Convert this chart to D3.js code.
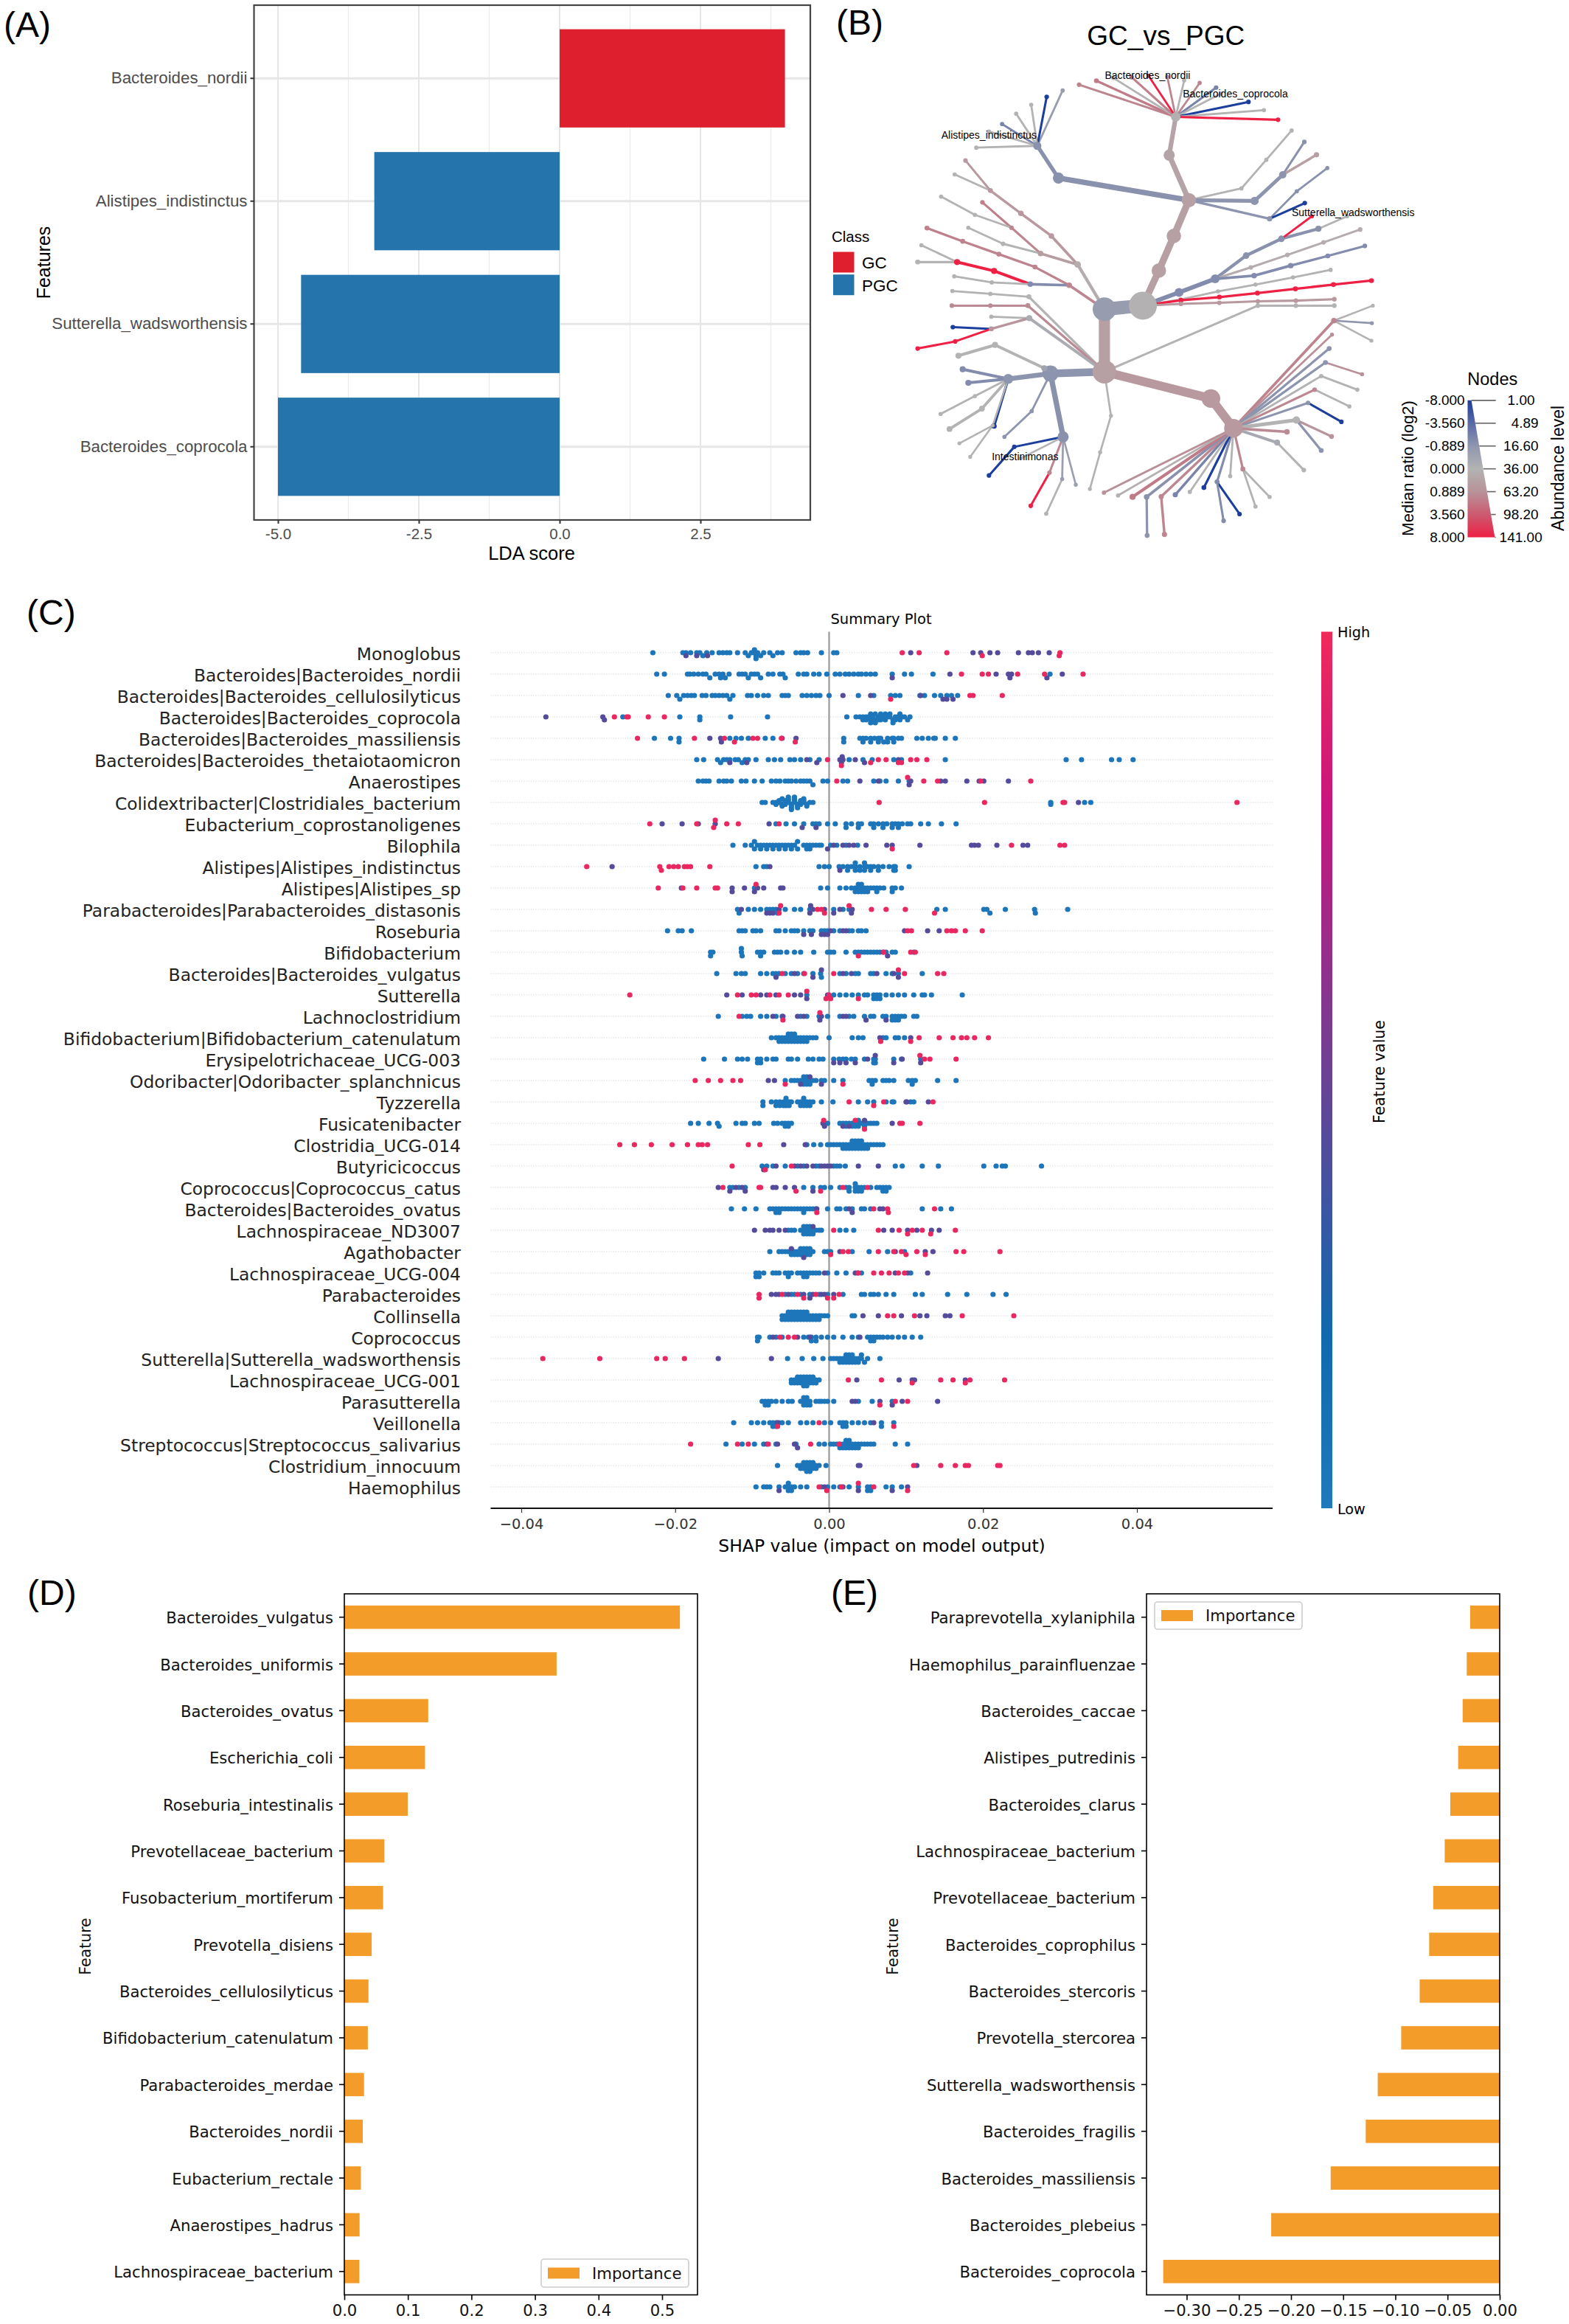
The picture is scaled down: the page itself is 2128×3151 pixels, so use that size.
<!DOCTYPE html>
<html><head><meta charset="utf-8">
<script src="https://cdn.jsdelivr.net/npm/d3@7/dist/d3.min.js"></script>
<style>html,body{margin:0;padding:0;background:#fff}svg{display:block}</style>
</head><body><svg id="fig" width="2128" height="3151"></svg>
<script>
// ---------- Panel A ----------
const ldaFeatures = ["Bacteroides_nordii","Alistipes_indistinctus","Sutterella_wadsworthensis","Bacteroides_coprocola"];
const ldaScores = [4.0,-3.29,-4.59,-5.0];
const ldaClasses = ["GC","PGC","PGC","PGC"];
const ldaTicks = [-5,-2.5,0,2.5];
const ldaMinor = [-3.75,-1.25,1.25,3.75];
const classNames = ["GC","PGC"];
// ---------- Panel B ----------
const ratioTicks = [-8,-3.56,-0.889,0,0.889,3.56,8];
const ratioLabels = ["-8.000","-3.560","-0.889","0.000","0.889","3.560","8.000"];
const ratioColors = ["#1c3f9e","#5a6aa6","#8f96ae","#b3b3b3","#b89299","#cc5a70","#ee2044"];
const abundLabels = ["1.00","4.89","16.60","36.00","63.20","98.20","141.00"];
const treeLabels = [["Bacteroides_nordii",670,211],["Bacteroides_coprocola",857,261],["Alistipes_indistinctus",332,377],["Sutterella_wadsworthensis",1108,595],["Intestinimonas",409,1278]];
// layout: [x, y, log2 ratio, abundance, children, ratio of incoming edge if different]
const treeRoot = [578,1040,.5,98,[
  [578,865,-.7,98,[
    [660,855,.05,141,[
      [694,757,.5,35,[[726,660,.5,35,[[758,560,.5,35,[
        [716,434,.4,20,[[730,327,.1,14,[
          [524,237,1.5,2.5],[561,226,2,3],[597,218,0,2],[636,216,1.8,2.5],[672,212,8,2],[712,215,1.5,2],
          [748,225,0,2],[781,232,1.5,2],[816,245,-2,2.5],[826,262,0,2],[885,285,-8,2.5],[918,308,0,2],[948,335,8,2.5]],.4]]],
        [480,498,-1.2,20,[[435,408,-1.2,10,[
          [489,253,-.7,2],[455,271,-8,2.5],[422,293,0,2],[390,318,0,2],[360,347,-2,2],[332,368,0,2],[305,413,0,2]]]]],
        [870,527,0,2,[[923,447,0,2,[[977,365,0,2]]]]],
        [898,562,-1,10,[[958,489,-1,8,[[1004,397,-1.2,2.5],[1030,433,.5,3.5]]]]],
        [930,612,-1,3.5,[[988,535,-1.2,2,[[1053,470,-1.2,2]]],[1005,568,-8,2.5]]]
      ]]]]]],
      [737,818,-1.5,12,[[814,780,-1.5,12,[
        [880,715,-1.2,6,[[955,668,-1.2,6,[[1034,640,-1.2,5,[[1095,605,0,2]]],[1020,605,8,2]]]]],
        [890,748,.2,2.5,[[968,713,.2,2.5,[[1045,678,.2,2.5,[[1123,642,.2,2.5]]]]]]],
        [897,771,-1.5,4,[[975,743,-1.5,4,[[1054,716,-1.5,3,[[1133,688,-1.5,2.5]]]]]]]
      ]]]],
      [740,838,0,2,[[820,815,0,2,[[900,796,0,2,[[980,776,0,2,[[1060,755,0,2]]]]]]]]],
      [741,840,8,3,[[823,831,8,3,[[904,820,8,3,[[985,808,8,3,[[1066,796,8,3,[[1147,785,8,3]]]]]]]]]]],
      [741,850,.7,2.5,[[823,847,.7,2.5,[[905,843,.7,2.5,[[986,841,.7,2.5,[[1068,837,.7,2.5]]]]]]]]]
    ],-.7],
    [521,740,.2,6,[
      [465,660,.7,4,[[400,597,.7,4,[[335,533,.7,3,[[282,449,.7,2.5],[259,488,0,2]]]]]]],
      [442,709,.6,4,[[380,637,1.5,2.5,[[318,566,1.8,2.5],[302,601,0,2,[[230,550,0,2]]]]],[362,682,0,2.5,[[288,637,0,2]]]]]
    ]],
    [503,798,1.5,4,[
      [430,747,1.6,3,[[353,711,1.6,3,[[276,675,1.6,3,[[200,638,1.8,3]]]]]]],
      [420,795,-1.5,4,[
        [343,758,8,5,[[264,733,8,5,[[180,733,0,3],[188,686,0,2]]]]],
        [338,790,0,2,[[258,773,0,2]]]
      ]]
    ]]
  ],.5],
  [417,830,0,3,[[335,822,0,2,[[254,814,0,2]]]]],
  [415,855,1.2,3,[[335,855,1.2,2.5,[[253,855,1.2,2.5]]]]],
  [418,890,-.2,5,[[337,886,0,2],[337,920,.8,3,[[255,915,-8,2.5],[260,955,8,2.5,[[180,975,8,2.5]]]]]]],
  [463,1045,-1,45,[
    [450,1030,-.5,5,[[345,965,0,5,[[267,995,0,5]]]]],
    [373,1060,-1,16,[
      [276,1033,-1.5,5],[288,1071,-1.5,5],
      [302,1108,0,2,[[229,1158,0,2]]],[317,1143,0,4.5,[[248,1200,0,4.5]]],
      [343,1192,-8,3.5],[340,1190,0,1.6,[[269,1240,0,1.6],[292,1278,0,1.6]]]
    ]],
    [423,1150,-1,2,[[365,1222,-1,2]]],
    [490,1222,-1.2,20,[
      [386,1250,-8,2.5,[[332,1330,-8,2.5]]],
      [461,1322,1.5,2.5,[[421,1415,8,2.5]]],
      [488,1340,-.6,2,[[454,1437,0,2]]],
      [517,1356,-.6,1.8],
      [400,1282,0,1.6]
    ]]
  ]],
  [592,1163,0,1.8,[[569,1265,0,1.8,[[547,1368,0,1.8]]]]],
  [905,855,0,2.5,[[986,855,0,2.5,[[1068,855,0,2.5]]]]],
  [805,1115,.7,60,[[853,1198,.7,60,[
    [1067,897,1.6,4,[[1150,855,0,1.6],[1148,904,-.9,1.6],[1147,953,0,1.6]]],
    [1063,936,1,1.8],[1057,975,-1,3],
    [1049,1014,-1,3,[[1127,1047,1,1.8]]],[1040,1052,0,2,[[1117,1090,0,2]]],
    [1026,1090,1.4,2.5,[[1100,1137,0,2]]],[1012,1127,-1,2.5,[[1083,1180,-8,2.5]]],
    [987,1175,0,8,[[1062,1221,.8,3],[1040,1260,-1,3]]],
    [967,1208,1.2,4],[946,1238,-.3,5,[[1003,1315,0,2.5]]],
    [873,1312,1.4,3,[[930,1390,0,2],[900,1417,0,2]]],
    [846,1332,0,2],[818,1348,-1.5,3,[[866,1438,-8,2.5],[832,1457,-1.5,2.5]]],
    [790,1364,-8,3],[760,1376,0,2],[729,1384,-2,3.5],
    [699,1389,1.4,3.5,[[706,1495,1.4,3.5]]],[668,1390,-1.2,4,[[669,1498,-1,3]]],
    [638,1390,2,5],[607,1386,.1,2],[577,1378,1,2]
  ]]]]
]];
// ---------- Panel C (SHAP in units of 1e-4) ----------
const SHAP_UNIT = 1e-4;
const shapFeatures = ["Monoglobus","Bacteroides|Bacteroides_nordii","Bacteroides|Bacteroides_cellulosilyticus","Bacteroides|Bacteroides_coprocola","Bacteroides|Bacteroides_massiliensis","Bacteroides|Bacteroides_thetaiotaomicron","Anaerostipes","Colidextribacter|Clostridiales_bacterium","Eubacterium_coprostanoligenes","Bilophila","Alistipes|Alistipes_indistinctus","Alistipes|Alistipes_sp","Parabacteroides|Parabacteroides_distasonis","Roseburia","Bifidobacterium","Bacteroides|Bacteroides_vulgatus","Sutterella","Lachnoclostridium","Bifidobacterium|Bifidobacterium_catenulatum","Erysipelotrichaceae_UCG-003","Odoribacter|Odoribacter_splanchnicus","Tyzzerella","Fusicatenibacter","Clostridia_UCG-014","Butyricicoccus","Coprococcus|Coprococcus_catus","Bacteroides|Bacteroides_ovatus","Lachnospiraceae_ND3007","Agathobacter","Lachnospiraceae_UCG-004","Parabacteroides","Collinsella","Coprococcus","Sutterella|Sutterella_wadsworthensis","Lachnospiraceae_UCG-001","Parasutterella","Veillonella","Streptococcus|Streptococcus_salivarius","Clostridium_innocuum","Haemophilus"];
const shapLow = [
[-229,-190,-186,-180,-172,-168,-164,-159,-152,-143,-138,-133,-129,-119,-109,-105,-101,-97,-95,-93,-97,-95,-89,-85,-77,-73,-67,-61,-43,-37,-33,-28,-10,6,10],
[-224,-214,-184,-181,-176,-170,-164,-160,-155,-148,-143,-141,-138,-135,-130,-117,-113,-109,-105,-101,-97,-93,-89,-79,-73,-64,-60,-57,-40,-33,-29,-20,-13,-3,8,14,21,26,32,38,42,48,54,60,82,98,107,135,287],
[-209,-198,-194,-189,-184,-179,-175,-165,-160,-152,-148,-143,-138,-133,-129,-125,-106,-101,-93,-85,-79,-61,-57,-53,-35,-29,-23,-17,-12,0,38,58,80,86,92,118,124,137,145,153,159,167],
[-268,-194,-168,-168,-128,-80,23,35,40,44,48,51,54,57,60,64,67,70,73,76,79,83,86,89,92,95,98,102,105,44,48,54,60,64,67,73,79,83,86,92,54,60,67],
[-227,-206,-195,-195,-129,-121,-114,-105,-83,-73,19,19,40,44,48,54,59,64,67,71,76,82,84,90,94,44,54,64,76,84,114,121,129,136,138,151,164],
[-172,-163,-145,-141,-137,-133,-129,-122,-118,-113,-109,-105,-95,-79,-71,-63,-51,-45,-37,-25,-13,26,44,56,84,94,151,308,328,367,377,395],
[-170,-164,-160,-156,-143,-137,-133,-127,-114,-108,-97,-87,-75,-69,-64,-57,-53,-49,-43,-37,-33,-29,-25,-21,-8,-2,18,24,58,66,74,90,104],
[-87,-83,-73,-69,-65,-61,-57,-53,-49,-45,-41,-37,-33,-29,-25,-21,-69,-65,-61,-57,-53,-49,-45,-41,-37,-33,-29,-61,-57,-53,-49,-45,-41,-37,-33,-53,-49,-45,288,288,332,340],
[-69,-56,-45,-33,-21,-17,-13,-2,8,22,29,38,42,54,58,64,70,75,82,86,90,95,102,106,119,129,146,165,58,70,82,90,22,38],
[-125,-109,-101,-97,-93,-89,-85,-81,-77,-73,-69,-65,-61,-57,-53,-49,-45,-41,-33,-29,-25,-21,-17,-13,-10,2,10,22,37,-97,-89,-81,-73,-65,-57,-49,-41,-29,-25],
[-95,-85,-81,-13,-6,0,13,18,24,29,34,40,46,50,54,58,64,70,78,84,86,104,24,34,46,54,64,84,86,34,40,46],
[-97,-11,-2,14,22,29,34,38,42,46,50,54,58,62,66,71,82,86,94,34,38,42,46,50,38,42,62,82],
[-119,-117,-105,-97,-89,-81,-77,-73,-69,-67,-57,-45,-37,-25,6,18,26,140,151,201,205,209,229,267,268,310],
[-210,-196,-191,-179,-117,-113,-109,-99,-95,-89,-69,-65,-57,-49,-45,-41,-33,-25,-21,-10,-6,-2,6,14,26,30,38,42,48],
[-154,-151,-154,-114,-113,-114,-93,-89,-85,-89,-71,-67,-63,-55,-45,-37,-20,-2,2,6,22,34,38,42,46,50,54,58,62,66,74,82,86,110],
[-146,-121,-114,-109,-89,-81,-73,-69,-65,-57,-49,-41,-33,-21,-11,-10,14,22,34,38,54,58,74,82,90,121],
[-29,6,14,22,30,38,46,50,58,62,66,74,82,90,98,110,121,124,133,173,58,62,66],
[-144,-113,-107,-102,-89,-81,-69,-61,-37,-29,-13,-2,14,26,32,46,54,58,70,74,82,86,90,94,98,110,114,82,86,90],
[-75,-69,-65,-61,-57,-53,-49,-45,-41,-37,-33,-29,-25,-21,-17,0,30,38,44,70,74,86,90,98,-65,-61,-57,-53,-49,-45,-41,-37,-33,-29,-53,-49,-45],
[-163,-136,-119,-113,-106,-93,-89,-81,-73,-69,-53,-49,-41,-27,-21,-13,-8,6,13,18,22,29,34,46,58,60,84,94,119,-93,-89,60,58],
[-57,-49,-45,-41,-33,-29,-25,-21,-17,-10,-6,6,18,52,56,60,70,74,78,84,103,108,112,141,165,-37,-33,-29,-25,-33,-29,56,108],
[-86,-86,-75,-69,-64,-59,-56,-52,-49,-41,-37,-33,-29,-25,-21,-10,5,38,50,58,74,82,84,106,110,-69,-64,-59,-56,-52,-37,-33,-29,-25,-56,-33],
[-180,-170,-156,-145,-143,-121,-113,-109,-97,-91,-72,-67,-61,-57,-53,-49,-2,14,18,22,26,30,34,38,42,46,50,54,58,62,-57,-53,22,30,38,46,34,38],
[-29,-20,-11,-2,2,6,10,14,18,22,26,30,34,38,42,46,50,54,58,62,66,70,18,22,26,30,34,38,42,46,50,30,34,38,42],
[-87,-81,-73,-57,-41,-33,-17,-13,6,10,14,21,86,95,121,142,201,217,225,229,276],
[-129,-125,-117,-109,-33,-21,-11,-6,2,14,22,26,34,38,42,46,54,62,66,70,74,78,26,34,38,42,34,70,74],
[-127,-110,-95,-77,-73,-69,-65,-61,-57,-53,-49,-45,-41,-37,-33,-29,-25,-21,-17,-2,10,14,22,30,42,46,54,121,145,159,-69,-65,-33],
[-53,-49,-45,-37,-33,-29,-25,-21,-17,-13,-10,14,22,32,-33,-29,-25,-21,-33,-29,-25],
[-77,-65,-61,-57,-53,-49,-45,-41,-37,-33,-29,-25,-21,-6,-2,2,30,52,76,98,-49,-45,-41,-37,-33,-29,-25,-37,-33,-29,-25],
[-95,-91,-85,-73,-69,-65,-57,-53,-49,-41,-33,-29,-25,-21,-17,-13,-2,10,22,42,106,-95,-91,-53,-33,-29,-37],
[-57,-49,-45,-37,-25,-13,-2,18,42,46,54,58,64,74,84,112,121,154,179,213,230],
[-61,-57,-53,-49,-45,-41,-37,-33,-29,-25,-21,-17,-13,-10,-6,-2,30,33,-61,-57,-53,-49,-45,-41,-37,-33,-29,-25,-21,-17,-13,-53,-49,-45,-41,-37,-33,-29],
[-93,-91,-93,-77,-69,-61,-33,-27,-23,-17,-10,-2,6,18,30,38,50,54,58,62,66,70,76,82,90,98,108,119,-23,-17,54,58],
[-54,-35,-20,-8,2,6,10,14,18,22,26,30,34,38,42,46,50,66,14,18,22,26,30,34,38,42,22,26,30],
[-49,-45,-41,-37,-33,-29,-25,-21,-17,-13,-49,-45,-41,-37,-33,-29,-25,-21,-17,-41,-37,-33,-29,-25,-21,-33,-29],
[-87,-83,-79,-75,-69,-61,-53,-48,-37,-33,-29,-25,-17,-13,-10,-6,-2,6,38,56,82,-83,-79,-33,-29,-25,-33,-29],
[-124,-101,-93,-85,-77,-73,-69,-65,-61,-53,-37,-29,-21,-6,2,14,18,22,30,38,46,54,68,84,-73,-69,18,22,68],
[-134,-113,-97,-85,-69,-43,-13,-6,2,6,10,14,18,22,26,30,34,38,42,46,50,54,58,86,102,14,18,22,26,30,34,38,22,26],
[-67,-41,-37,-33,-29,-25,-21,-17,-13,-4,-37,-33,-29,-25,-21,-17,-33,-29,-25,-21,-29,-25,-27],
[-95,-85,-81,-77,-65,-57,-53,-49,-45,-37,-29,-10,-2,6,14,26,38,50,54,74,82,94,-53,-49,-53,50,54]
];
const shapMid = [
[-186,-172,-158,106,187,209,219,246,259,264,272,286,197],
[82,157,217,233,237,235,283,303],
[18,54,119,148,153,161],
[-368,-294,-292],
[-155,-141,-140,-61,-43],
[-129,-107,-29,-16,14,16,17,18,34,46,90],
[40,64,104,106,145,151,179,195,201,233],
[324],
[-217,-191,-170,-148,-78,-35,-17],
[-2,6,18,26,32,48,75,82,118,185,189,194,218,252,258],
[-282,-77,14],
[-192,-126,-126,-110,-97,-93,-85,-63,-60],
[-114,-81,-77,-73,-65,-25,-24,-21,-6,6,14,29,30],
[-33,-23,-10,-6,-2,2,18,22,98,128,143],
[70,76],
[-69,-45,-21,-10,18,29,62,84,90],
[-133,-113,-89,-81,-69,-45,-37,-29,-2],
[-73,-60,-41,-33,-12,-10,18,22,48,74],
[66,106],
[6,14,22,34,50,60,84,95,119],
[-79,-71,-37,-25,-10],
[100,101,129],
[-8,-6,18,26,46,82],
[-59,-31],
[-85,-69,-45,-37,-29,-21,-10,-6,-2,2,38,64],
[-144,-129,-121,-113,-109,-73,-69,-57,-45,-21],
[-16,26,30,66,70],
[-97,-83,-77,-73,-65,-57,-21,71,82,102,114,133,143],
[-49,-33,14,86,125,135],
[-6,34,37,86,102,128],
[-75,-69,-65,-53,-33,-25,-21,-10,-6,6],
[44,64,94,118,127,151,157],
[-73,-41,-25,40],
[-144,-75],
[36,91,108,111,177],
[30,34,66,82,95,141],
[-67,58],
[-81,-67,-45,-41],
[38,40,114],
[-65,-6,18,38,82,102]
];
const shapHigh = [
[95,117,153,199,300,299],
[172,199,207,245,280,330],
[80,183,187,225],
[-279,-261,-263,-235,-214],
[-249,-175,-136,-123,-99,-93,-62,-44],
[-2,16,54,64,74,90,94,106,114,127],
[10,102,123,141,197,262],
[65,202,304,306,530],
[-233,-172,-150,-148,-133,-118,-65],
[82,237,300,306],
[-315,-220,-218,-208,-202,-196,-188,-184,-180,-155],
[-222,-190,-172,-148,-145,-95],
[-65,-63,-15,-10,-6,26,55,74,99,137],
[102,107,153,159,164,177,199],
[38,71,106,112],
[-61,-32,6,90,98,141,149],
[-259,-119,-101,-95,-77,-65,-53,-29,-4,0,2,38],
[-117,-60,-12],
[67,106,117,143,161,172,179,189,207],
[118,124,131,165],
[-174,-157,-141,-125,-115,-57,18],
[26,58,71,135],
[-7,34,46,92,95,118],
[-272,-253,-231,-204,-184,-170,-165,-158,-105,-90],
[-126,-83,-49],
[-138,-91,-89,-43,-11,18,50],
[-16,58,76,77,137],
[6,64,91,102,108,121,132,164],
[2,18,25,64,84,94,100,114,125,165,175,222],
[38,58,68,78,90,98],
[-91,-91,-61,-41,-33,-17,-2,6,13],
[76,84,111,173,240],
[-64,-53,-45],
[-372,-298,-224,-213,-188],
[25,68,108,145,161,177,183,228],
[66,86,102],
[-67,-13,84],
[-180,-119,-105,-79,-24,13],
[110,145,164,177,181,219,222],
[-13,-3,16,38,58,102]
];
const shapTicks = [-0.04,-0.02,0,0.02,0.04];
const featureStops = [0,0.2,0.55,0.8,1];
const featureColors = ["#2079bc","#1068ae","#7c3a90","#c8157f","#ef2a5a"];
const levelValue = {low:0.03,mid:0.42,high:0.97};
// ---------- Panels D, E ----------
const impPosNames = ["Bacteroides_vulgatus","Bacteroides_uniformis","Bacteroides_ovatus","Escherichia_coli","Roseburia_intestinalis","Prevotellaceae_bacterium","Fusobacterium_mortiferum","Prevotella_disiens","Bacteroides_cellulosilyticus","Bifidobacterium_catenulatum","Parabacteroides_merdae","Bacteroides_nordii","Eubacterium_rectale","Anaerostipes_hadrus","Lachnospiraceae_bacterium"];
const impPosValues = [.528,.334,.132,.127,.0998,.063,.061,.043,.038,.037,.031,.029,.026,.024,.0236];
const impPosTicks = [0,.1,.2,.3,.4,.5];
const impNegNames = ["Paraprevotella_xylaniphila","Haemophilus_parainfluenzae","Bacteroides_caccae","Alistipes_putredinis","Bacteroides_clarus","Lachnospiraceae_bacterium","Prevotellaceae_bacterium","Bacteroides_coprophilus","Bacteroides_stercoris","Prevotella_stercorea","Sutterella_wadsworthensis","Bacteroides_fragilis","Bacteroides_massiliensis","Bacteroides_plebeius","Bacteroides_coprocola"];
const impNegValues = [-.0283,-.0316,-.0355,-.0398,-.0474,-.0527,-.0637,-.0676,-.0767,-.0944,-.1169,-.1284,-.162,-.219,-.3225];
const impNegTicks = [-.30,-.25,-.20,-.15,-.10,-.05,0];

// ---------- drawing ----------
const svg = d3.select("#fig");
const SANS = "'Liberation Sans',Arial,sans-serif", DJV = "'DejaVu Sans',sans-serif";
const txt = (g,s,x,y,size,opts={}) => {
  const t = g.append("text").attr("x",x).attr("y",y).attr("font-size",size)
    .attr("font-family",opts.font||SANS).attr("fill",opts.fill||"#000")
    .attr("text-anchor",opts.anchor||"start").attr("dominant-baseline","central").text(s);
  if(opts.rot) t.attr("transform",`rotate(${opts.rot} ${x} ${y})`);
  return t;
};
[["(A)",5,33],["(B)",1134,30],["(C)",36,830],["(D)",37,2159],["(E)",1127,2159]].forEach(d=>txt(svg,d[0],d[1],d[2],48,{}));

// Panel A
(()=>{
  const g = svg.append("g");
  const x = d3.scaleLinear().domain([-5,2.5]).range([377,950]);
  const y = d3.scaleBand().domain(ldaFeatures).range([23,689]).paddingInner(.2).paddingOuter(.1);
  const L=344.5,R=1099,T=7,B=705;
  ldaMinor.forEach(v=>g.append("line").attr("x1",x(v)).attr("x2",x(v)).attr("y1",T).attr("y2",B).attr("stroke","#ebebeb").attr("stroke-width",1.2));
  ldaTicks.forEach(v=>g.append("line").attr("x1",x(v)).attr("x2",x(v)).attr("y1",T).attr("y2",B).attr("stroke","#e6e6e6").attr("stroke-width",2));
  ldaFeatures.forEach(f=>{const c=y(f)+y.bandwidth()/2;g.append("line").attr("x1",L).attr("x2",R).attr("y1",c).attr("y2",c).attr("stroke","#e6e6e6").attr("stroke-width",3);});
  const cls = d3.scaleOrdinal().domain(classNames).range(["#de1f2e","#2575ac"]);
  g.selectAll("rect.b").data(ldaFeatures).join("rect").attr("x",(d,i)=>Math.min(x(0),x(ldaScores[i])))
    .attr("width",(d,i)=>Math.abs(x(ldaScores[i])-x(0))).attr("y",d=>y(d)).attr("height",y.bandwidth()).attr("fill",(d,i)=>cls(ldaClasses[i]));
  g.append("rect").attr("x",L).attr("y",T).attr("width",R-L).attr("height",B-T).attr("fill","none").attr("stroke","#444").attr("stroke-width",2.2);
  const ax = g.append("g").attr("transform",`translate(0,${B})`).call(d3.axisBottom(x).tickValues(ldaTicks).tickFormat(d=>d.toFixed(1)).tickSize(5).tickPadding(6));
  ax.select(".domain").remove();
  ax.selectAll("text").attr("font-size",20.5).attr("font-family",SANS).attr("fill","#4d4d4d");
  ax.selectAll("line").attr("stroke","#333").attr("stroke-width",2);
  const ay = g.append("g").attr("transform",`translate(${L},0)`).call(d3.axisLeft(y).tickSize(5).tickPadding(4));
  ay.select(".domain").remove();
  ay.selectAll("text").attr("font-size",22.3).attr("font-family",SANS).attr("fill","#4d4d4d");
  ay.selectAll("line").attr("stroke","#333").attr("stroke-width",2);
  txt(g,"LDA score",721,750,25.5,{anchor:"middle"});
  txt(g,"Features",59,356,25,{anchor:"middle",rot:-90});
  txt(g,"Class",1128,320,20.5);
  classNames.forEach((c,i)=>{
    g.append("rect").attr("x",1130).attr("y",341.5+i*30.7).attr("width",28.5).attr("height",28).attr("fill",cls(c));
    txt(g,c,1169,356+i*31,22.5);
  });
})();

// Panel B
(()=>{
  const g = svg.append("g");
  const X = d3.scaleLinear().domain([0,1568]).range([1130,2128]);
  const Y = d3.scaleLinear().domain([0,1568]).range([0,760]);
  const col = d3.scaleLinear().domain(ratioTicks).range(ratioColors);
  const rad = d3.scaleSqrt().domain([1,141]).range([2.2,19]);
  const wid = d3.scaleSqrt().domain([1,141]).range([2.2,18]);
  const root = d3.hierarchy(treeRoot,d=>d[4]);
  txt(g,"GC_vs_PGC",X(709),Y(100),37,{anchor:"middle"});
  g.selectAll("line.e").data(root.links()).join("line").attr("x1",d=>X(d.source.data[0])).attr("y1",d=>Y(d.source.data[1]))
    .attr("x2",d=>X(d.target.data[0])).attr("y2",d=>Y(d.target.data[1]))
    .attr("stroke",d=>col(d.target.data[5]??d.target.data[2])).attr("stroke-width",d=>wid(d.target.data[3])).attr("stroke-linecap","round");
  g.selectAll("circle.n").data(root.descendants()).join("circle").attr("cx",d=>X(d.data[0])).attr("cy",d=>Y(d.data[1]))
    .attr("r",d=>rad(d.data[3])).attr("fill",d=>col(d.data[2]));
  treeLabels.forEach(d=>txt(g,d[0],X(d[1]),Y(d[2]),14,{anchor:"middle"}));
  // legend
  txt(g,"Nodes",X(1405),Y(1060),23.5,{anchor:"middle"});
  const ly = d3.scalePoint().domain(d3.range(7)).range([1120,1503]);
  const grad = svg.append("defs").append("linearGradient").attr("id","rg").attr("x1",0).attr("x2",0).attr("y1",0).attr("y2",1);
  ratioTicks.forEach((v,i)=>grad.append("stop").attr("offset",i/6).attr("stop-color",col(v)));
  const lw = d3.scaleLinear().domain([0,6]).range([1360,1410]);
  ratioTicks.forEach((v,i)=>{
    g.append("line").attr("x1",X(lw(i))).attr("x2",X(1412)).attr("y1",Y(ly(i))).attr("y2",Y(ly(i))).attr("stroke","#666").attr("stroke-width",1.6);
    txt(g,ratioLabels[i],X(1346),Y(ly(i)),19,{anchor:"end"});
    txt(g,abundLabels[i],X(i==0?1495:i==6?1511:1503),Y(ly(i)),19,{anchor:"end"});
  });
  g.append("polygon").attr("points",[[1352,1120],[lw(0),1120],[lw(6),1503],[1352,1503]].map(p=>X(p[0])+","+Y(p[1])).join(" ")).attr("fill","url(#rg)");
  txt(g,"Median ratio (log2)",X(1225),Y(1310),22,{anchor:"middle",rot:-90});
  txt(g,"Abundance level",X(1545),Y(1310),23,{anchor:"middle",rot:-90});
})();

// Panel C
(()=>{
  const g = svg.append("g");
  const x = d3.scaleLinear().domain([-0.04,0.04]).range([707,1542]);
  const y = d3.scalePoint().domain(shapFeatures).range([885,2016]);
  const fv = d3.scaleLinear().domain(featureStops).range(featureColors);
  const AB = 2045;
  shapFeatures.forEach(f=>g.append("line").attr("x1",665.5).attr("x2",1726).attr("y1",y(f)).attr("y2",y(f)).attr("stroke","#ccc").attr("stroke-dasharray","1 2.2"));
  g.append("line").attr("x1",x(0)).attr("x2",x(0)).attr("y1",856.5).attr("y2",AB).attr("stroke","#999").attr("stroke-width",2.2);
  shapFeatures.forEach((f,i)=>{
    const pts = [...shapLow[i].map(v=>({v,l:"low"})),...shapMid[i].map(v=>({v,l:"mid"})),...shapHigh[i].map(v=>({v,l:"high"}))];
    const [mn,mx] = d3.extent(pts,d=>d.v);
    const order = d3.sort(pts,d=>Math.round(100*(d.v-mn)/(mx-mn)));
    let layer=0,last=null;
    order.forEach(p=>{const q=Math.round(100*(p.v-mn)/(mx-mn)); if(q!==last)layer=0; last=q;
      p.o=Math.ceil(layer/2)*((layer%2)*2-1); layer++;});
    const maxO = d3.max(order,d=>d.o+1);
    const rank={low:0,mid:1,high:2};
    const draw = d3.sort(order,d=>rank[d.l]);
    g.selectAll(null).data(draw).join("circle").attr("cx",d=>x(d.v*SHAP_UNIT))
      .attr("cy",d=>y(f)+d.o*Math.min(5,12/maxO)).attr("r",3.6).attr("fill",d=>fv(levelValue[d.l]));
    txt(g,f,625,y(f)+2,23.4,{anchor:"end",font:DJV,fill:"#222"});
  });
  g.append("line").attr("x1",665.5).attr("x2",1726).attr("y1",AB).attr("y2",AB).attr("stroke","#111").attr("stroke-width",1.8);
  const ax = g.append("g").attr("transform",`translate(0,${AB})`).call(d3.axisBottom(x).tickValues(shapTicks).tickFormat(d=>(d<0?"−":"")+Math.abs(d).toFixed(2)).tickSize(6).tickPadding(8));
  ax.select(".domain").remove();
  ax.selectAll("text").attr("font-size",19.5).attr("font-family",DJV).attr("fill","#333");
  ax.selectAll("line").attr("stroke","#333").attr("stroke-width",1.2);
  txt(g,"SHAP value (impact on model output)",1196,2096,23.5,{anchor:"middle",font:DJV});
  txt(g,"Summary Plot",1195,839,19.5,{anchor:"middle",font:DJV});
  const cg = svg.select("defs").append("linearGradient").attr("id","fvg").attr("x1",0).attr("x2",0).attr("y1",1).attr("y2",0);
  featureStops.forEach((s,i)=>cg.append("stop").attr("offset",s).attr("stop-color",featureColors[i]));
  g.append("rect").attr("x",1792).attr("y",856.5).attr("width",15).attr("height",AB-856.5).attr("fill","url(#fvg)");
  txt(g,"High",1814,857,19.2,{font:DJV});
  txt(g,"Low",1814,2046,19.2,{font:DJV});
  txt(g,"Feature value",1871,1453,20.5,{anchor:"middle",rot:-90,font:DJV});
})();

// Panels D, E
const drawImportance = (names,vals,ticks,L,R,domain,labelX,fmt,legend)=>{
  const g = svg.append("g"), T=2161,B=3111.5;
  const x = d3.scaleLinear().domain(domain).range([L,R]);
  const y = d3.scaleBand().domain(names).range([T,B]).paddingInner(.5).paddingOuter(.25);
  g.selectAll("rect").data(names).join("rect").attr("x",(d,i)=>Math.min(x(0),x(vals[i]))).attr("width",(d,i)=>Math.abs(x(vals[i])-x(0)))
    .attr("y",d=>y(d)).attr("height",y.bandwidth()).attr("fill","#f39c2a");
  g.append("rect").attr("x",L).attr("y",T).attr("width",R-L).attr("height",B-T).attr("fill","none").attr("stroke","#000").attr("stroke-width",1.6);
  const ax = g.append("g").attr("transform",`translate(0,${B})`).call(d3.axisBottom(x).tickValues(ticks).tickFormat(fmt).tickSize(7).tickPadding(6));
  const ay = g.append("g").attr("transform",`translate(${L},0)`).call(d3.axisLeft(y).tickSize(7).tickPadding(8));
  [ax,ay].forEach(a=>{a.select(".domain").remove();a.selectAll("text").attr("font-size",21.2).attr("font-family",DJV).attr("fill","#111");a.selectAll("line").attr("stroke","#000").attr("stroke-width",1.6);});
  ay.selectAll("text").attr("dy","0.4em");
  txt(g,"Feature",labelX,2639,20.5,{anchor:"middle",rot:-90,font:DJV,fill:"#111"});
  g.append("rect").attr("x",legend[0]).attr("y",legend[1]).attr("width",legend[2]).attr("height",legend[3]).attr("rx",4).attr("fill","#fff").attr("stroke","#ccc").attr("stroke-width",1.6);
  g.append("rect").attr("x",legend[0]+9).attr("y",legend[1]+legend[3]/2-7.5).attr("width",43).attr("height",15).attr("fill","#f39c2a");
  txt(g,"Importance",legend[0]+69,legend[1]+legend[3]/2,21.2,{font:DJV,fill:"#111"});
};
drawImportance(impPosNames,impPosValues,impPosTicks,467,946,[0,.5557],116,d3.format(".1f"),[734,3063,200,38]);
drawImportance(impNegNames,impNegValues,impNegTicks,1555,2034,[-.3385,0],1210.5,d=>(d<0?"−":"")+Math.abs(d).toFixed(2),[1566,2172,200,37]);
</script></body></html>
